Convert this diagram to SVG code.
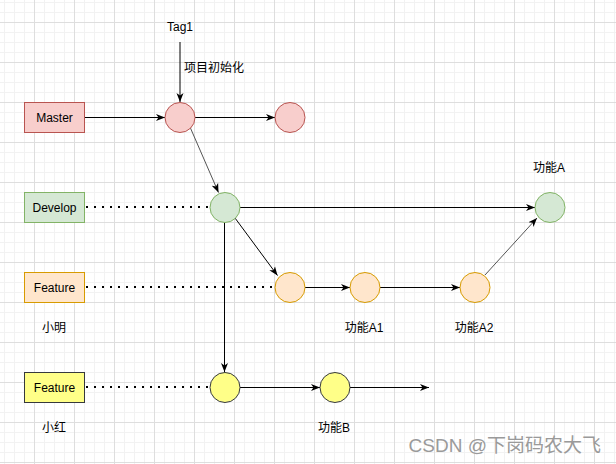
<svg xmlns="http://www.w3.org/2000/svg" width="616" height="464" viewBox="0 0 616 464">
  <defs>
    <pattern id="grid" x="4" y="2" width="40" height="40" patternUnits="userSpaceOnUse">
      <path d="M0.5,0V40M10.5,0V40M20.5,0V40M0,0.5H40M0,10.5H40M0,30.5H40" stroke="#f2f2f2" stroke-width="1" fill="none"/>
      <path d="M30.5,0V40M0,20.5H40" stroke="#dedede" stroke-width="1" fill="none"/>
    </pattern>
    <marker id="arr" markerUnits="userSpaceOnUse" markerWidth="10" markerHeight="8" refX="9" refY="4" orient="auto">
      <path d="M0,0.5 L9,4 L0,7.5 L2.5,4 Z" fill="#000"/>
    </marker>
    <style>
      text { font-family: "Liberation Sans", "Noto Sans CJK SC", sans-serif; font-size: 12px; fill: #000; }
      .c { text-anchor: middle; }
      .ln { stroke: #000; stroke-width: 1; fill: none; }
      .gr { stroke: #555; stroke-width: 1; fill: none; }
      .dot { stroke: #000; stroke-width: 2; stroke-dasharray: 2 6; fill: none; }
      .red { fill: #f8cecc; stroke: #b85450; }
      .green { fill: #d5e8d4; stroke: #82b366; }
      .orange { fill: #ffe6cc; stroke: #d79b00; }
      .yellow { fill: #ffff88; stroke: #36393d; }
    </style>
  </defs>
  <rect width="616" height="464" fill="#fff"/>
  <rect width="616" height="464" fill="url(#grid)"/>

  <g id="connectors">
    <line class="ln" x1="180" y1="42" x2="180" y2="102" marker-end="url(#arr)"/>
    <line class="ln" x1="84.5" y1="117.5" x2="165" y2="117.5" marker-end="url(#arr)"/>
    <line class="ln" x1="195" y1="117.5" x2="275" y2="117.5" marker-end="url(#arr)"/>
    <line class="gr" x1="190" y1="127" x2="218.5" y2="192.5" marker-end="url(#arr)"/>
    <line class="dot" x1="86" y1="207" x2="210" y2="207"/>
    <line class="ln" x1="240" y1="207.5" x2="535" y2="207.5" marker-end="url(#arr)"/>
    <line class="ln" x1="235" y1="218" x2="277.5" y2="275.5" marker-end="url(#arr)"/>
    <line class="ln" x1="224.5" y1="222" x2="224.5" y2="372" marker-end="url(#arr)"/>
    <line class="dot" x1="86" y1="287" x2="275" y2="287"/>
    <line class="ln" x1="305" y1="287.5" x2="350" y2="287.5" marker-end="url(#arr)"/>
    <line class="ln" x1="380" y1="287.5" x2="460" y2="287.5" marker-end="url(#arr)"/>
    <line class="gr" x1="485" y1="275" x2="537" y2="218" marker-end="url(#arr)"/>
    <line class="dot" x1="86" y1="387" x2="210" y2="387"/>
    <line class="ln" x1="240" y1="387.5" x2="320" y2="387.5" marker-end="url(#arr)"/>
    <line class="ln" x1="350" y1="387.5" x2="429" y2="387.5" marker-end="url(#arr)"/>
  </g>

  <g id="tag1"><text class="c" x="180" y="31">Tag1</text></g>
  <g id="init-label"><text x="184" y="72">项目初始化</text></g>

  <g id="master"><rect class="red" x="24.5" y="102.5" width="60" height="30"/><text class="c" x="54.5" y="121.5">Master</text></g>
  <g id="m1"><circle class="red" cx="180" cy="117.5" r="15"/></g>
  <g id="m2"><circle class="red" cx="290" cy="117.5" r="15"/></g>

  <g id="develop"><rect class="green" x="24.5" y="192.5" width="60" height="30"/><text class="c" x="54.5" y="211.5">Develop</text></g>
  <g id="d1"><circle class="green" cx="225" cy="207.5" r="15"/></g>
  <g id="dA"><circle class="green" cx="550" cy="207.5" r="15"/><text class="c" x="549" y="172">功能A</text></g>

  <g id="feature1"><rect class="orange" x="24.5" y="272.5" width="60" height="30"/><text class="c" x="54.5" y="291.5">Feature</text><text class="c" x="54" y="332">小明</text></g>
  <g id="f1"><circle class="orange" cx="290" cy="287.5" r="15"/></g>
  <g id="fA1"><circle class="orange" cx="365" cy="287.5" r="15"/><text class="c" x="364" y="332">功能A1</text></g>
  <g id="fA2"><circle class="orange" cx="475" cy="287.5" r="15"/><text class="c" x="474" y="332">功能A2</text></g>

  <g id="feature2"><rect class="yellow" x="24.5" y="372.5" width="60" height="30"/><text class="c" x="54.5" y="391.5">Feature</text><text class="c" x="54" y="432">小红</text></g>
  <g id="y1"><circle class="yellow" cx="225" cy="387.5" r="15"/></g>
  <g id="yB"><circle class="yellow" cx="335" cy="387.5" r="15"/><text class="c" x="334" y="432">功能B</text></g>

  <g id="watermark"><text x="601" y="452" text-anchor="end" style="font-size:19px;fill:#9a9a9a">CSDN @下岗码农大飞</text></g>
</svg>
